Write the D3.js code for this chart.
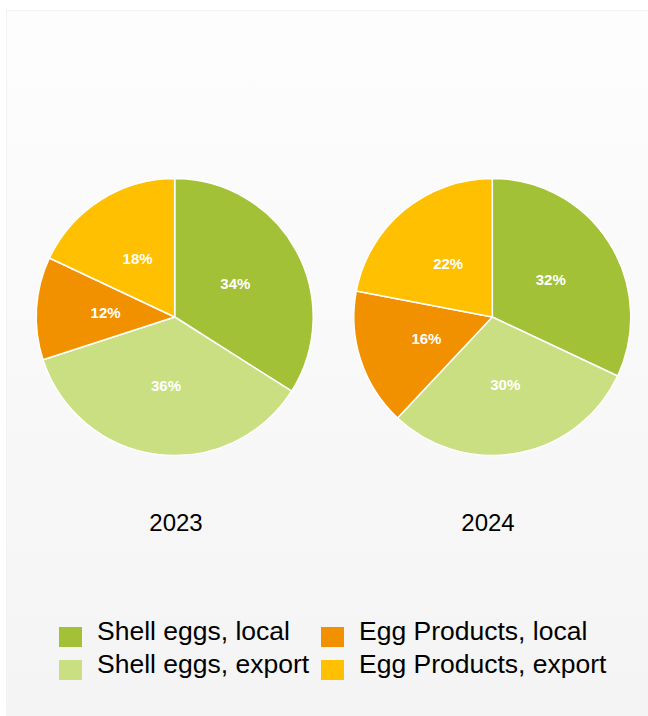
<!DOCTYPE html>
<html>
<head>
<meta charset="utf-8">
<script src="https://cdn.jsdelivr.net/npm/d3@7"></script>
<style>
  html, body { margin: 0; padding: 0; background: #ffffff; }
  svg { display: block; font-family: "Liberation Sans", Arial, sans-serif; }
</style>
</head>
<body>
<svg id="chart" width="648" height="716"></svg>
<script>
// Share of egg output by product and destination, per year (percent)
const categories = ["Shell eggs, local", "Shell eggs, export", "Egg Products, local", "Egg Products, export"];
const years = ["2023", "2024"];
const values2023 = [34, 36, 12, 18];
const values2024 = [32, 30, 16, 22];
const colors = ["#a3c137", "#c9df81", "#f29100", "#fec000"];

const seriesByYear = [values2023, values2024];

const W = 648, H = 716;
const svg = d3.select("#chart");

// background panel with soft vertical gradient
const defs = svg.append("defs");
const grad = defs.append("linearGradient")
  .attr("id", "panelGrad").attr("x1", 0).attr("y1", 0).attr("x2", 0).attr("y2", 1);
grad.append("stop").attr("offset", "0%").attr("stop-color", "#fdfdfd");
grad.append("stop").attr("offset", "100%").attr("stop-color", "#f4f4f4");

svg.append("rect").attr("x", 0).attr("y", 0).attr("width", W).attr("height", H).attr("fill", "#ffffff");
svg.append("rect")
  .attr("x", 6.5).attr("y", 10.5).attr("width", W - 6).attr("height", H - 10)
  .attr("fill", "url(#panelGrad)")
  .attr("stroke", "#f3f3f3").attr("stroke-width", 1);

const radius = 138.5;
const centerX = d3.scalePoint().domain(years).range([174.7, 492.3]);
const titleX = d3.scalePoint().domain(years).range([176, 488]);
const centerY = 317;

const color = d3.scaleOrdinal().domain(categories).range(colors);

const pie = d3.pie().sort(null).value(d => d.value);
const arc = d3.arc().innerRadius(0).outerRadius(radius);
const labelArc = d3.arc().innerRadius(radius * 0.5).outerRadius(radius * 0.5);

years.forEach((yr, yi) => {
  const data = categories.map((c, i) => ({ category: c, value: seriesByYear[yi][i] }));
  const g = svg.append("g").attr("transform", `translate(${centerX(yr)},${centerY})`);
  const arcs = pie(data);

  g.selectAll("path.slice")
    .data(arcs)
    .join("path")
    .attr("class", "slice")
    .attr("d", arc)
    .attr("fill", d => color(d.data.category))
    .attr("stroke", "#ffffff")
    .attr("stroke-width", 1.5)
    .attr("stroke-linejoin", "round");

  g.selectAll("text.pct")
    .data(arcs)
    .join("text")
    .attr("class", "pct")
    .attr("transform", d => `translate(${labelArc.centroid(d)})`)
    .attr("text-anchor", "middle")
    .attr("dy", "0.36em")
    .attr("fill", "#ffffff")
    .attr("font-size", 15)
    .attr("font-weight", "bold")
    .text(d => d.data.value + "%");

  svg.append("text")
    .attr("x", titleX(yr))
    .attr("y", 531)
    .attr("text-anchor", "middle")
    .attr("font-size", 24)
    .attr("fill", "#000000")
    .text(yr);
});

// legend: two columns, two rows
const legendCols = [59, 321];
const legendRows = [627, 660];
const legend = svg.append("g");
categories.forEach((c, i) => {
  const col = Math.floor(i / 2), row = i % 2;
  const x = legendCols[col], y = legendRows[row];
  legend.append("rect")
    .attr("x", x).attr("y", y).attr("width", 23).attr("height", 20)
    .attr("fill", color(c));
  legend.append("text")
    .attr("x", x + 38).attr("y", y + 13)
    .attr("font-size", 26.5)
    .attr("fill", "#000000")
    .text(c);
});
</script>
</body>
</html>
